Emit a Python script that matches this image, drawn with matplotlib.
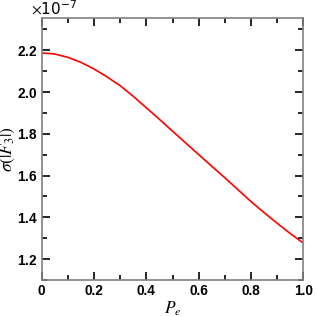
import matplotlib
matplotlib.use("Agg")
import matplotlib.pyplot as plt
from matplotlib.ticker import MultipleLocator, FixedLocator, FixedFormatter, ScalarFormatter

# Data
pe = [0.0, 0.05, 0.1, 0.15, 0.2, 0.25, 0.3, 0.35, 0.4, 0.45, 0.5,
      0.55, 0.6, 0.65, 0.7, 0.75, 0.8, 0.85, 0.9, 0.95, 1.0]
sigma_e7 = [2.187, 2.182, 2.166, 2.142, 2.110, 2.072, 2.030, 1.979, 1.924, 1.869, 1.812,
            1.756, 1.700, 1.644, 1.589, 1.532, 1.475, 1.422, 1.371, 1.322, 1.276]
sigma = [v * 1e-7 for v in sigma_e7]

xticks = [0, 0.2, 0.4, 0.6, 0.8, 1.0]
xtick_labels = ["0", "0.2", "0.4", "0.6", "0.8", "1.0"]

plt.rcParams['mathtext.fontset'] = 'stix'

fig = plt.figure(figsize=(3.17, 3.17), dpi=100)
ax = fig.add_axes([0.1316, 0.1167, 0.8258, 0.8250])

ax.plot(pe, sigma, color='red', lw=1.2)

ax.set_xlim(0, 1.0)
ax.set_ylim(1.1e-7, 2.352e-7)

ax.xaxis.set_major_locator(FixedLocator(xticks))
ax.xaxis.set_major_formatter(FixedFormatter(xtick_labels))
ax.xaxis.set_minor_locator(MultipleLocator(0.1))
ax.yaxis.set_major_locator(MultipleLocator(0.2e-7))
ax.yaxis.set_minor_locator(MultipleLocator(0.1e-7))
fmt = ScalarFormatter(useMathText=True)
fmt.set_powerlimits((0, 0))
ax.yaxis.set_major_formatter(fmt)

ax.tick_params(which='both', direction='in', top=True, right=True, color='black')
ax.tick_params(which='major', length=6, width=1.2, pad=3)
ax.tick_params(which='minor', length=3.5, width=1.2)

for lab in ax.get_xticklabels() + ax.get_yticklabels():
    lab.set_fontfamily('Liberation Sans')
    lab.set_fontweight('bold')
    lab.set_fontsize(9.8)

for sp in ax.spines.values():
    sp.set_color('#808080')
    sp.set_linewidth(1.2)

off = ax.yaxis.get_offset_text()
off.set_fontsize(11)
off.set_x(-0.04)

ax.set_xlabel(r'$P_e$', fontsize=12.5)
ax.xaxis.set_label_coords(0.5, -0.075)
ax.set_ylabel(r'$\sigma(|F_3|)$', fontsize=12.5)
ax.yaxis.set_label_coords(-0.095, 0.5)

fig.savefig('out.png', dpi=100)
